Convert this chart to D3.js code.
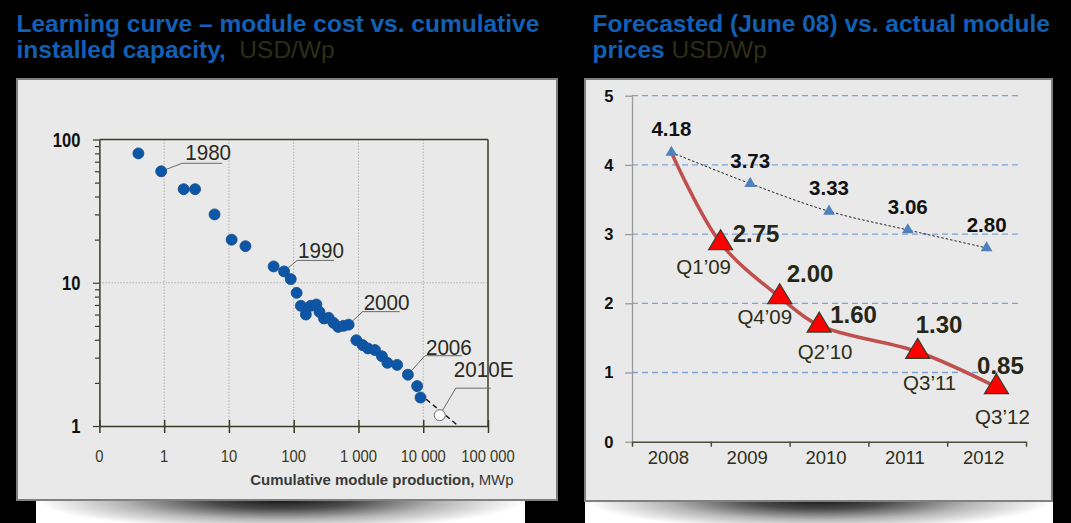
<!DOCTYPE html>
<html><head><meta charset="utf-8">
<script src="https://cdn.jsdelivr.net/npm/d3@7"></script>
<style>html,body{margin:0;padding:0;background:#000;} svg{display:block;}</style>
</head><body>
<svg id="c" width="1071" height="523"></svg>
<script>
// ---------- Left chart data: learning curve ----------
const cumProduction = [0.4, 0.9, 2, 3, 6, 11, 18, 49, 71, 90, 111, 129, 154, 183, 224, 250, 294, 347, 412, 485, 585, 705, 927, 1160, 1400, 1800, 2300, 2800, 3950, 5800, 8050, 9080];
const moduleCost    = [80, 60, 45, 45, 30, 20, 18, 13, 12, 10.6, 8.5, 6.9, 6.0, 6.9, 7.05, 6.26, 5.63, 5.69, 5.25, 4.92, 5.0, 5.1, 3.97, 3.67, 3.48, 3.39, 3.07, 2.76, 2.67, 2.28, 1.9, 1.58];
const estimateProduction = [18000];
const estimateCost = [1.19];
const trendProduction = [7000, 35000];
const trendCost = [1.83, 1.0];
const annotationYears = ["1980", "1990", "2000", "2006", "2010E"];
const annotationIndex = [1, 8, 21, 29, -1]; // -1 = estimate point
const xTickValues = [0.1, 1, 10, 100, 1000, 10000, 100000];
const xTickLabels = ["0", "1", "10", "100", "1 000", "10 000", "100 000"];
const yMajorTicks = [1, 10, 100];

// ---------- Right chart data: forecast vs actual ----------
const forecastYears = ["2008", "2009", "2010", "2011", "2012"];
const forecastPrices = [4.18, 3.73, 3.33, 3.06, 2.80];
const forecastLabels = ["4.18", "3.73", "3.33", "3.06", "2.80"];
const actualQuarters = ["Q1’09", "Q4’09", "Q2’10", "Q3’11", "Q3’12"];
const actualTime = [2009.125, 2009.875, 2010.375, 2011.625, 2012.625];
const actualPrices = [2.87, 2.09, 1.68, 1.30, 0.79];
const actualLabels = ["2.75", "2.00", "1.60", "1.30", "0.85"];
const priceTicks = [0, 1, 2, 3, 4, 5];

// ---------- layout config ----------
const FONT = "'Liberation Sans', Arial, Helvetica, sans-serif";
const BLUE_TITLE = "#1260b6";
const OLIVE = "#2e2e18";
const annotOffsets = [[21, -8], [13, -11], [14, -13], [17, -19], [16, -27]];
const annotTextShift = [[3, -3], [1, -2], [1, -2], [1, -1], [-2, -11]];
const annotLineLen = [40, 37, 37, 37, 35];
const valueLabelOffsets = [[12, -1, "start"], [7, -15.5, "start"], [11, -2, "start"], [-2, -19, "start"], [4, -13, "middle"]];
const quarterLabelOffsets = [[-17, 31], [-15, 27], [6, 34], [12, 38], [6, 37]];

const svg = d3.select("#c");
svg.append("rect").attr("width", 1071).attr("height", 523).attr("fill", "#000");

function T(g, x, y, s, o) {
  return g.append("text")
    .attr("transform", `translate(${x},${y}) scale(${o.sx || 1},1)`)
    .attr("font-family", FONT)
    .attr("font-size", o.size)
    .attr("font-weight", o.bold ? "bold" : "normal")
    .attr("fill", o.fill || "#000")
    .attr("text-anchor", o.anchor || "start")
    .attr("dy", o.dy || null)
    .text(s);
}

// shadow gradient
const defs = svg.append("defs");
const grad = defs.append("radialGradient").attr("id", "sh")
  .attr("cx", 0.5).attr("cy", 0).attr("r", 0.5)
  .attr("gradientTransform", "translate(0.5,0) scale(1,2.6) translate(-0.5,0)");
[[0, "#151515"], [0.3, "#4a4a4a"], [0.65, "#b5b5b5"], [1, "#ffffff"]].forEach(s =>
  grad.append("stop").attr("offset", s[0]).attr("stop-color", s[1]));

// ---------- Titles ----------
function title(x, l1, l2a, l2b) {
  svg.append("text").attr("x", x).attr("y", 32).attr("font-family", FONT)
    .attr("font-size", 24.5).attr("font-weight", "bold").attr("fill", BLUE_TITLE).text(l1);
  const t2 = svg.append("text").attr("x", x).attr("y", 57.5).attr("font-family", FONT)
    .attr("font-size", 24.5).attr("xml:space", "preserve");
  t2.append("tspan").attr("font-weight", "bold").attr("fill", BLUE_TITLE).text(l2a);
  t2.append("tspan").attr("fill", OLIVE).text(l2b);
}
title(16.5, "Learning curve – module cost vs. cumulative", "installed capacity,", "  USD/Wp");
title(592.5, "Forecasted (June 08) vs. actual module", "prices", " USD/Wp");

// ---------- Left panel ----------
const L = svg.append("g");
L.append("rect").attr("x", 36).attr("y", 500).attr("width", 489).attr("height", 23).attr("fill", "url(#sh)");
L.append("rect").attr("x", 17).attr("y", 79).attr("width", 540).attr("height", 421)
  .attr("fill", "#e9e9e9").attr("stroke", "#808080").attr("stroke-width", 2);

const xL = d3.scaleLog().domain([0.1, 100000]).range([99.4, 488]);
const yL = d3.scaleLog().domain([1, 100]).range([426, 139.5]);

// gridlines
L.append("g").selectAll("line").data(xTickValues.slice(1, -1)).join("line")
  .attr("x1", d => xL(d)).attr("x2", d => xL(d)).attr("y1", yL(100)).attr("y2", yL(1))
  .attr("stroke", "#b0b0b0").attr("stroke-width", 1).attr("stroke-dasharray", "1.5,1.5");
L.append("line").attr("x1", xL(0.1)).attr("x2", xL(100000)).attr("y1", yL(10)).attr("y2", yL(10))
  .attr("stroke", "#b0b0b0").attr("stroke-width", 1).attr("stroke-dasharray", "1.5,1.5");
// frame top and right
L.append("line").attr("x1", xL(0.1)).attr("x2", xL(100000)).attr("y1", yL(100)).attr("y2", yL(100))
  .attr("stroke", "#3a3a2a").attr("stroke-width", 1.5);
L.append("line").attr("x1", xL(100000)).attr("x2", xL(100000)).attr("y1", yL(100)).attr("y2", yL(1))
  .attr("stroke", "#3a3a2a").attr("stroke-width", 1.5);

// y axis (ticks via d3 axis)
const yMinor = [];
[1, 10].forEach(b => { for (let k = 2; k <= 9; k++) yMinor.push(b * k); });
const yAxG = L.append("g").attr("transform", `translate(${xL(0.1)},0)`)
  .call(d3.axisLeft(yL).tickValues(yMajorTicks.concat(yMinor)).tickFormat("").tickSizeOuter(0));
yAxG.select(".domain").attr("stroke", "#3a3a2a").attr("stroke-width", 1.5);
yAxG.selectAll(".tick line").attr("stroke", "#3a3a2a").attr("stroke-width", 1.2)
  .attr("x2", d => yMajorTicks.includes(d) ? -6.5 : -4.5);
yMajorTicks.forEach(v => T(L, 80.5, yL(v), String(v), { size: 19.5, bold: true, anchor: "end", sx: 0.85, dy: "0.36em", fill: "#111" }));

// x axis
const xAxG = L.append("g").attr("transform", `translate(0,${yL(1)})`)
  .call(d3.axisBottom(xL).tickValues(xTickValues).tickFormat("").tickSizeOuter(0));
xAxG.select(".domain").attr("stroke", "#3a3a2a").attr("stroke-width", 1.5);
xAxG.selectAll(".tick line").attr("stroke", "#3a3a2a").attr("stroke-width", 1.5).attr("y1", -6).attr("y2", 7);
xTickValues.forEach((v, i) => T(L, xL(v), 461.5, xTickLabels[i], { size: 17, anchor: "middle", sx: 0.87, fill: "#3a3a1e" }));

// axis title
const at = L.append("text").attr("transform", "translate(513.5,485) scale(0.965,1)")
  .attr("font-family", FONT).attr("font-size", 15.5).attr("text-anchor", "end").attr("fill", "#3a3a3a");
at.append("tspan").attr("font-weight", "bold").text("Cumulative module production,");
at.append("tspan").text(" MWp");

// trend line
L.append("path").datum(trendProduction.map((p, i) => [p, trendCost[i]]))
  .attr("d", d3.line().x(d => xL(d[0])).y(d => yL(d[1])))
  .attr("fill", "none").attr("stroke", "#111").attr("stroke-width", 1.4).attr("stroke-dasharray", "5,3.5");

// points
L.append("g").selectAll("circle").data(cumProduction.map((p, i) => [p, moduleCost[i]])).join("circle")
  .attr("cx", d => xL(d[0])).attr("cy", d => yL(d[1])).attr("r", 5.5)
  .attr("fill", "#0b56a7").attr("stroke", "#1c4b86").attr("stroke-width", 0.8);
L.append("g").selectAll("circle").data(estimateProduction.map((p, i) => [p, estimateCost[i]])).join("circle")
  .attr("cx", d => xL(d[0])).attr("cy", d => yL(d[1])).attr("r", 5.5)
  .attr("fill", "#ffffff").attr("stroke", "#6a6a6a").attr("stroke-width", 1);

// annotations
annotationYears.forEach((yr, i) => {
  const idx = annotationIndex[i];
  const px = idx < 0 ? xL(estimateProduction[0]) : xL(cumProduction[idx]);
  const py = idx < 0 ? yL(estimateCost[0]) : yL(moduleCost[idx]);
  const ux = px + annotOffsets[i][0], uy = py + annotOffsets[i][1];
  const dx = px - ux, dy = py - uy, dist = Math.hypot(dx, dy);
  const ex = ux + dx * (dist - 5.5) / dist, ey = uy + dy * (dist - 5.5) / dist;
  L.append("path").attr("d", `M${ux + annotLineLen[i]},${uy}L${ux},${uy}L${ex},${ey}`)
    .attr("fill", "none").attr("stroke", "#6a6a6a").attr("stroke-width", 1);
  T(L, ux + annotTextShift[i][0], uy + annotTextShift[i][1], yr, { size: 21.5, fill: "#2a2a22", sx: 0.96 });
});

// ---------- Right panel ----------
const R = svg.append("g");
R.append("rect").attr("x", 585).attr("y", 500).attr("width", 468).attr("height", 23).attr("fill", "url(#sh)");
R.append("rect").attr("x", 585).attr("y", 79).attr("width", 467).attr("height", 422)
  .attr("fill", "#e9e9e9").attr("stroke", "#808080").attr("stroke-width", 2);

const xR = d3.scaleLinear().domain([2008, 2013]).range([632, 1026]);
const yR = d3.scaleLinear().domain([0, 5]).range([441.7, 95.7]);

// gridlines
R.append("g").selectAll("line").data(priceTicks.slice(1)).join("line")
  .attr("x1", xR(2008)).attr("x2", 1022).attr("y1", d => yR(d)).attr("y2", d => yR(d))
  .attr("stroke", "#7ea3d8").attr("stroke-width", 1.3).attr("stroke-dasharray", "6,4");

// y axis
const yRAx = R.append("g").attr("transform", `translate(${xR(2008)},0)`)
  .call(d3.axisLeft(yR).tickValues(priceTicks).tickFormat("").tickSize(7).tickSizeOuter(0));
yRAx.select(".domain").attr("stroke", "#9a9a9a").attr("stroke-width", 1.3);
yRAx.selectAll(".tick line").attr("stroke", "#9a9a9a").attr("stroke-width", 1.3);
priceTicks.forEach(v => T(R, 613.5, yR(v), String(v), { size: 16.5, bold: true, anchor: "end", dy: "0.36em", fill: "#111" }));

// x axis
const yearBounds = d3.range(2008, 2014);
const xRAx = R.append("g").attr("transform", `translate(0,${yR(0)})`)
  .call(d3.axisBottom(xR).tickValues(yearBounds).tickFormat("").tickSize(5).tickSizeOuter(0));
xRAx.select(".domain").attr("stroke", "#4a4a3a").attr("stroke-width", 1.5);
xRAx.selectAll(".tick line").attr("stroke", "#4a4a3a").attr("stroke-width", 1.5);
forecastYears.forEach(y => T(R, xR(+y + 0.5) - 3, 463.5, y, { size: 18.5, anchor: "middle", fill: OLIVE }));

// forecast line + markers
const fPts = forecastYears.map((y, i) => [+y + 0.5, forecastPrices[i]]);
R.append("path").datum(fPts)
  .attr("d", d3.line().x(d => xR(d[0])).y(d => yR(d[1])).curve(d3.curveCatmullRom.alpha(0.5)))
  .attr("fill", "none").attr("stroke", "#222").attr("stroke-width", 1).attr("stroke-dasharray", "2.5,2");

// actual red line
const aPts = [fPts[0]].concat(actualTime.map((t, i) => [t, actualPrices[i]]));
R.append("path").datum(aPts)
  .attr("d", d3.line().x(d => xR(d[0])).y(d => yR(d[1])).curve(d3.curveCatmullRom.alpha(0.5)))
  .attr("fill", "none").attr("stroke", "#c0504d").attr("stroke-width", 3.5);

R.append("g").selectAll("path").data(fPts).join("path")
  .attr("transform", d => `translate(${xR(d[0])},${yR(d[1])})`)
  .attr("d", d3.symbol(d3.symbolTriangle, 60)())
  .attr("fill", "#4f81bd");
fPts.forEach((d, i) => T(R, xR(d[0]), yR(d[1]) - 16, forecastLabels[i], { size: 20.5, bold: true, anchor: "middle", fill: "#111" }));

// red triangles
const tw = 24, th = 20;
const triPath = `M0,${-2 * th / 3}L${tw / 2},${th / 3}L${-tw / 2},${th / 3}Z`;
R.append("g").selectAll("path").data(actualTime.map((t, i) => [t, actualPrices[i]])).join("path")
  .attr("transform", d => `translate(${xR(d[0])},${yR(d[1])})`)
  .attr("d", triPath).attr("fill", "#ff0000").attr("stroke", "#3a3a2a").attr("stroke-width", 1.2);

actualTime.forEach((t, i) => {
  const cx = xR(t), cy = yR(actualPrices[i]);
  const o = valueLabelOffsets[i];
  T(R, cx + o[0], cy + o[1], actualLabels[i], { size: 24, bold: true, anchor: o[2], fill: "#262614" });
  const q = quarterLabelOffsets[i];
  T(R, cx + q[0], cy + q[1], actualQuarters[i], { size: 20.5, anchor: "middle", fill: OLIVE });
});
</script>
</body></html>
